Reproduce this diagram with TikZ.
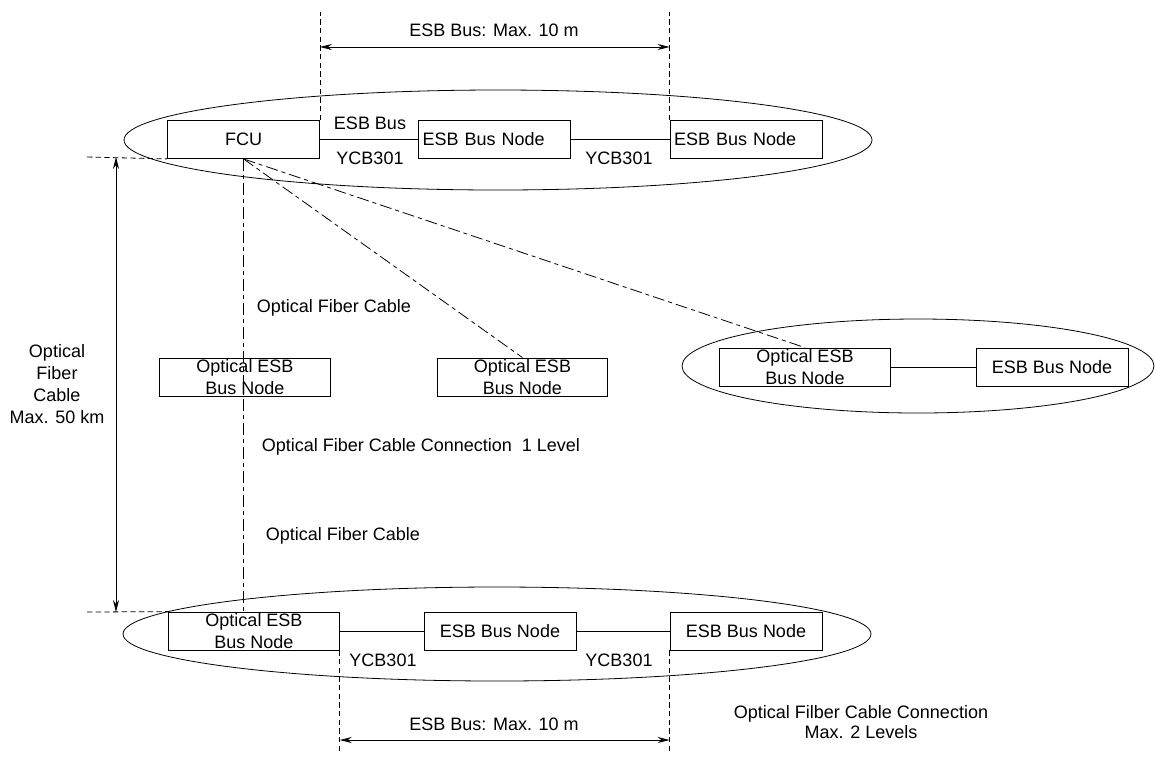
\documentclass[tikz,border=0pt]{standalone}
\usepackage{fontspec}
\setmainfont{Liberation Sans}
\usetikzlibrary{arrows.meta}
\tikzset{
box/.style={draw,inner sep=0pt,minimum width=114pt,minimum height=28.5pt},
obox/.style={box,minimum width=128pt,align=center,font=\fontsize{13.5pt}{16pt}\selectfont},
lbox/.style={box,text width=108pt,align=left},
fiber/.style={dash pattern=on 9pt off 3pt on 3pt off 3pt},
guide/.style={dash pattern=on 4pt off 2.5pt}
}
\begin{document}
\begin{tikzpicture}[x=0.75pt,y=-0.75pt,>={Stealth[length=9pt,width=4.5pt]},line width=0.6pt,font=\fontsize{13.5pt}{15pt}\selectfont]
\useasboundingbox (0,0) rectangle (1155,758);
\draw (498,140) ellipse [x radius=280.5pt,y radius=37.5pt];
\draw (918,366) ellipse [x radius=177pt,y radius=35.25pt];
\draw (497,634) ellipse [x radius=280.5pt,y radius=35.25pt];
\node[box] (fcu) at (243.5,139.5) {FCU};
\node[lbox] (bn1) at (494.5,139.5) {ESB Bus Node};
\node[lbox] (bn2) at (746,139.5) {ESB Bus Node};
\node[obox] (oa) at (245,377) {Optical ESB\\Bus Node};
\node[obox] (ob) at (522.5,377) {Optical ESB\\Bus Node};
\node[obox] (oc) at (805,367) {Optical ESB\\Bus Node};
\node[box] (cn) at (1052,367) {ESB Bus Node};
\node[obox] (oe) at (254,631) {Optical ESB\\Bus Node};
\node[box] (bn3) at (500,631) {ESB Bus Node};
\node[box] (bn4) at (746,631) {ESB Bus Node};
\draw (fcu) -- (bn1) -- (bn2);
\draw (oc) -- (cn);
\draw (oe) -- (bn3) -- (bn4);
\draw[fiber] (fcu.south) -- (fcu.south |- oe.north);
\draw[fiber] (fcu.south) -- (ob.north);
\draw[fiber] (fcu.south) -- (oc.north);
\draw[guide] (fcu.north east) -- (fcu.north east |- 0,12);
\draw[guide] (bn2.north west) -- (bn2.north west |- 0,12);
\draw[<->] (fcu.north east |- 0,47) -- (bn2.north west |- 0,47);
\draw[guide] (oe.south east) -- (oe.south east |- 0,753);
\draw[guide] (bn4.south west) -- (bn4.south west |- 0,753);
\draw[<->] (oe.south east |- 0,740) -- (bn4.south west |- 0,740);
\coordinate (l1) at (87,157);
\coordinate (l2) at (87,612);
\draw[guide] (l1) -- (fcu.south west);
\draw[guide] (l2) -- (oe.north west);
\draw[<->] (116,157) -- (116,612);
\node (toplbl) at (494,30) {ESB Bus: Max. 10 m};
\node (botlbl) at (494,724) {ESB Bus: Max. 10 m};
\node (bus) at (370,123) {ESB Bus};
\node (ycb1) at (370,158) {YCB301};
\node (ycb2) at (619,158) {YCB301};
\node (ycb3) at (383,660) {YCB301};
\node (ycb4) at (619,660) {YCB301};
\node[anchor=west] (ofc1) at (252,308) {Optical Fiber Cable};
\node[anchor=west] (lvl1) at (257,447) {Optical Fiber Cable Connection\ \ 1 Level};
\node[anchor=west] (ofc2) at (261,536) {Optical Fiber Cable};
\node[align=center,font=\fontsize{13.5pt}{16.5pt}\selectfont] (maxkm) at (57,384) {Optical\\Fiber\\Cable\\Max. 50 km};
\node[align=center] (lvl2) at (861,722) {Optical Filber Cable Connection\\Max. 2 Levels};
\end{tikzpicture}
\end{document}
